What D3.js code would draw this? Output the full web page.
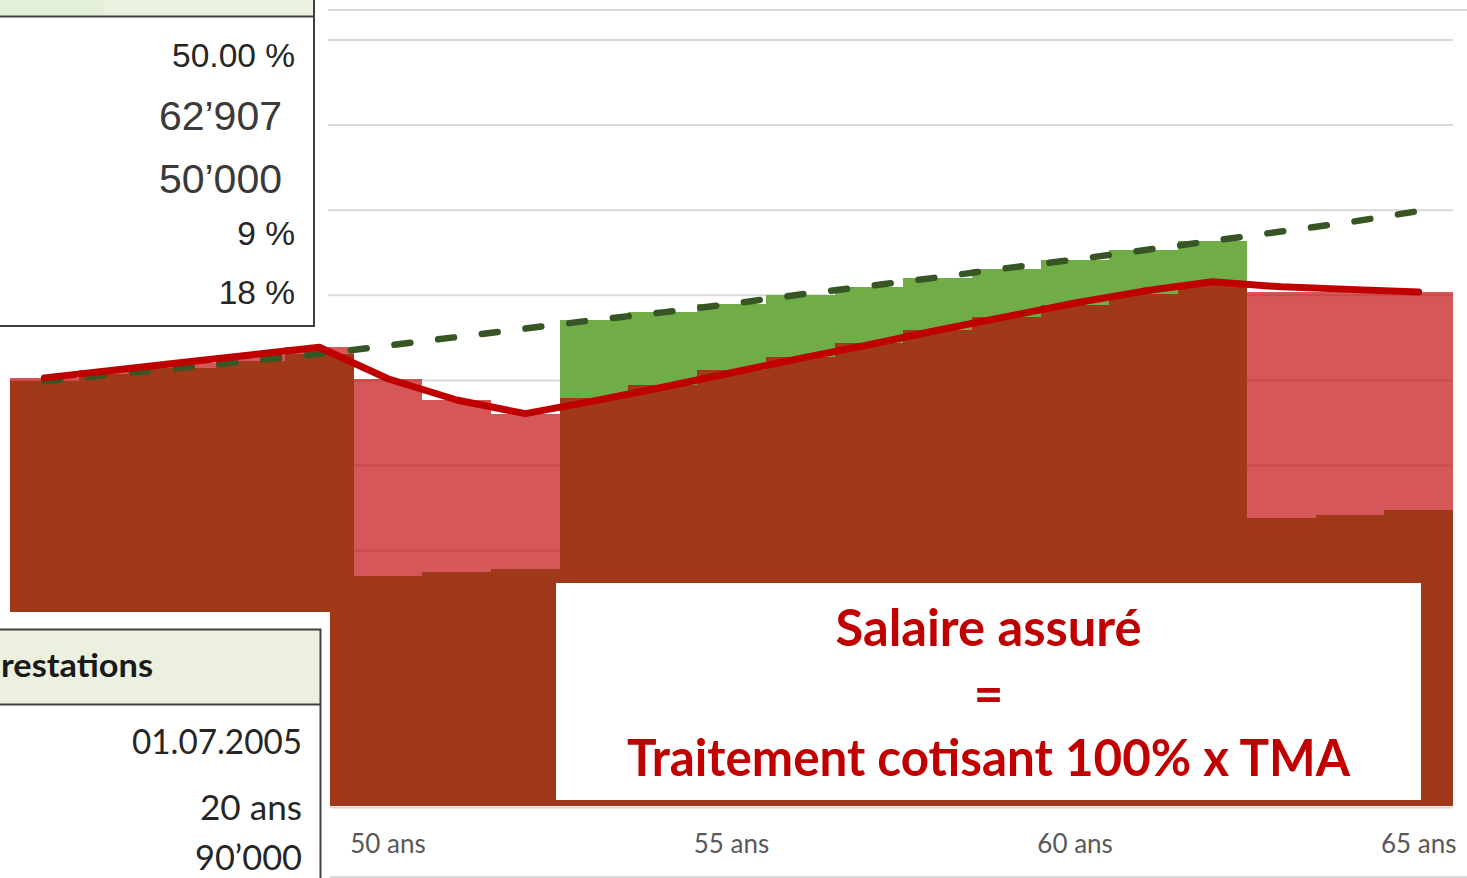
<!DOCTYPE html>
<html>
<head>
<meta charset="utf-8">
<script src="https://cdn.jsdelivr.net/npm/d3@7"></script>
<style>
  body { margin: 0; background: #fff; }
  svg { display: block; }
</style>
</head>
<body>
<div class="view"></div>
<script>
// ages (one column per year)
var ages = [45, 46, 47, 48, 49, 50, 51, 52, 53, 54, 55, 56, 57, 58, 59, 60, 61, 62, 63, 64, 65];
var tickAges = [45, 50, 55, 60, 65];

// brown columns
var brownBars = [49900, 50700, 51500, 52300, 53100, 27000, 27500, 27900, 47900, 49500, 51200,
    52800, 54400, 55900, 57500, 58900, 60200, 61500, 33800, 34200, 34800];
// pink columns (loss)
var pinkBars = [50300, 51200, 52100, 53000, 53900, 50200, 47700, 46100, null, null, null,
    null, null, null, null, null, null, null, 60400, 60400, 60400];
// green columns (gain)
var greenBars = [null, null, null, null, null, null, null, null, 57100, 58000, 59000,
    60000, 61000, 62000, 63100, 64200, 65300, 66400, null, null, null];
// red line
var redLine = [50300, 51200, 52100, 53000, 53900, 50200, 47700, 46100, 47600, 49200, 50900,
    52600, 54200, 55900, 57500, 59100, 60500, 61600, 61000, 60700, 60400];
// dashed line
var dashedLine = [49900, 50700, 51500, 52300, 53100, 54100, 55100, 56100, 57100, 58000, 59000,
    60100, 61100, 62100, 63200, 64200, 65300, 66400, 67500, 68600, 69900];
var gridValues = [10000, 20000, 30000, 40000, 50000, 60000, 70000, 80000, 90000];

// table texts (the tables are cropped at the left edge)
var topValues = ["50.00 %", "62\u2019907", "50\u2019000", "9 %", "18 %"];
var bottomHeader = "restations";
var bottomValues = ["01.07.2005", "20 ans", "90\u2019000"];
var boxLines = ["Salaire assur\u00e9", "=", "Traitement cotisant 100% x TMA"];

var W = 1467, H = 878;

var svg = d3.select(".view").append("svg")
    .attr("width", W)
    .attr("height", H);

// scales
var x = d3.scaleBand().domain(ages).range([10, 1453]).padding(0);
var y = d3.scaleLinear().domain([0, 90000]).range([806, 40]);

// separate grey lines (sheet borders)
svg.append("line").attr("x1", 328).attr("x2", W).attr("y1", 10).attr("y2", 10)
    .attr("stroke", "#d9d9d9").attr("stroke-width", 2);
svg.append("line").attr("x1", 330).attr("x2", W).attr("y1", 877).attr("y2", 877)
    .attr("stroke", "#d9d9d9").attr("stroke-width", 2);

// gridlines
svg.append("g").selectAll("line")
    .data(gridValues)
    .enter().append("line")
    .attr("x1", 10).attr("x2", 1453)
    .attr("y1", function (d) { return y(d); })
    .attr("y2", function (d) { return y(d); })
    .attr("stroke", "#d9d9d9").attr("stroke-width", 2);

// columns, snapped to whole pixels so neighbours touch without seams
function bars(values, color, opacity) {
    svg.append("g").selectAll("rect")
        .data(ages.map(function (a, i) { return { age: a, v: values[i] }; })
            .filter(function (d) { return d.v != null; }))
        .enter().append("rect")
        .attr("x", function (d) { return Math.round(x(d.age)); })
        .attr("width", function (d) {
            return Math.round(x(d.age) + x.bandwidth()) - Math.round(x(d.age));
        })
        .attr("y", function (d) { return Math.round(y(d.v)); })
        .attr("height", function (d) { return Math.round(y(0)) - Math.round(y(d.v)); })
        .attr("fill", color)
        .attr("fill-opacity", opacity)
        .attr("shape-rendering", "crispEdges");
}

bars(pinkBars, "#c00000", 0.66);
bars(greenBars, "#70ad47", 1);
bars(brownBars, "#a0381a", 1);

// x axis
var axis = svg.append("g")
    .attr("transform", "translate(0,807)")
    .call(d3.axisBottom(x).tickValues(tickAges)
        .tickFormat(function (d) { return d + " ans"; })
        .tickSize(0).tickSizeOuter(0).tickPadding(28));
axis.select(".domain").attr("stroke", "#d9d9d9").attr("stroke-width", 2);
axis.selectAll("text")
    .attr("fill", "#595959")
    .style("font-family", "Lato, sans-serif")
    .style("font-size", "26px");

// lines
var line = d3.line()
    .x(function (d) { return x(d.age) + x.bandwidth() / 2; })
    .y(function (d) { return y(d.v); });

svg.append("path")
    .datum(ages.map(function (a, i) { return { age: a, v: dashedLine[i] }; }))
    .attr("d", line)
    .attr("fill", "none")
    .attr("stroke", "#375623")
    .attr("stroke-width", 6.5)
    .attr("stroke-linecap", "round")
    .attr("stroke-dasharray", "16 28");

svg.append("path")
    .datum(ages.map(function (a, i) { return { age: a, v: redLine[i] }; }))
    .attr("d", line)
    .attr("fill", "none")
    .attr("stroke", "#c00000")
    .attr("stroke-width", 7)
    .attr("stroke-linejoin", "round")
    .attr("stroke-linecap", "round");

// top-left table (cropped)
svg.append("rect").attr("x", 0).attr("y", 0).attr("width", 328).attr("height", 332).attr("fill", "#fff");
svg.append("rect").attr("x", 0).attr("y", 0).attr("width", 104).attr("height", 16).attr("fill", "#e4efd9");
svg.append("rect").attr("x", 104).attr("y", 0).attr("width", 210).attr("height", 16).attr("fill", "#ebf1df");
svg.append("path").attr("d", "M0,16.5H314M314,0V326M0,326H315")
    .attr("fill", "none").attr("stroke", "#404040").attr("stroke-width", 2);

var topPos = [[295, 67, 33.5], [282, 130, 41], [282, 193, 41], [295, 245, 33.5], [295, 304, 33.5]];
svg.append("g").selectAll("text")
    .data(topValues)
    .enter().append("text")
    .attr("x", function (d, i) { return topPos[i][0]; })
    .attr("y", function (d, i) { return topPos[i][1]; })
    .attr("text-anchor", "end")
    .style("font-family", "'Liberation Sans', Arial, sans-serif")
    .style("font-size", function (d, i) { return topPos[i][2] + "px"; })
    .attr("fill", function (d, i) { return (i == 1 || i == 2) ? "#3a3a3a" : "#262626"; })
    .text(function (d) { return d; });

// bottom-left table (cropped)
svg.append("rect").attr("x", 0).attr("y", 612).attr("width", 330).attr("height", 266).attr("fill", "#fff");
svg.append("rect").attr("x", 0).attr("y", 629).attr("width", 320).attr("height", 75).attr("fill", "#ebf1de");
svg.append("path").attr("d", "M0,629.5H320.5V878M0,704.5H320")
    .attr("fill", "none").attr("stroke", "#404040").attr("stroke-width", 2);
svg.append("text")
    .attr("x", 1).attr("y", 677)
    .attr("textLength", 152).attr("lengthAdjust", "spacingAndGlyphs")
    .style("font-family", "Lato, sans-serif")
    .style("font-weight", "bold")
    .style("font-size", "33px")
    .attr("fill", "#1a1a1a")
    .text(bottomHeader);

var botPos = [[754, 170], [820, 102], [870, 107]];
svg.append("g").selectAll("text")
    .data(bottomValues)
    .enter().append("text")
    .attr("x", 302)
    .attr("y", function (d, i) { return botPos[i][0]; })
    .attr("text-anchor", "end")
    .attr("textLength", function (d, i) { return botPos[i][1]; })
    .attr("lengthAdjust", "spacingAndGlyphs")
    .style("font-family", "Lato, sans-serif")
    .style("font-size", "34px")
    .attr("fill", "#262626")
    .text(function (d) { return d; });

// text box
svg.append("rect").attr("x", 556).attr("y", 583).attr("width", 865).attr("height", 217).attr("fill", "#fff");
var boxPos = [[646, 306], [712, null], [776, 723]];
svg.append("g").selectAll("text")
    .data(boxLines)
    .enter().append("text")
    .attr("x", 988.5)
    .attr("y", function (d, i) { return boxPos[i][0]; })
    .attr("text-anchor", "middle")
    .attr("textLength", function (d, i) { return boxPos[i][1]; })
    .attr("lengthAdjust", "spacingAndGlyphs")
    .style("font-family", "Lato, sans-serif")
    .style("font-weight", "bold")
    .style("font-size", "51px")
    .attr("fill", "#c00000")
    .text(function (d) { return d; });
</script>
</body>
</html>
